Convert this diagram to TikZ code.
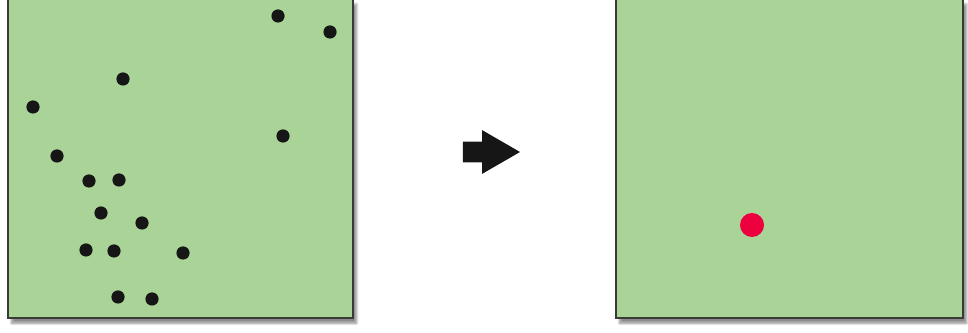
\documentclass[tikz,border=0pt]{standalone}
\usepackage{xcolor}
\definecolor{fieldgreen}{RGB}{170,211,152}
\definecolor{frameink}{RGB}{55,58,55}
\definecolor{hotred}{RGB}{236,0,62}
\definecolor{dotink}{RGB}{22,22,22}
\usepackage{tikz}
\usetikzlibrary{positioning,shapes.arrows,shadows.blur}
\tikzset{
  panel/.style  ={rectangle,draw=frameink,fill=fieldgreen,line width=1.1pt,
                  minimum width=8.625cm,minimum height=7.975cm,inner sep=0pt,
                  blur shadow={shadow xshift=0.09cm,shadow yshift=-0.13cm,shadow blur steps=6,shadow opacity=45}},
  pointmark/.style={circle,fill=dotink,minimum size=0.33cm,inner sep=0pt},
  meanmark/.style ={circle,fill=hotred,minimum size=0.6cm,inner sep=0pt},
  goarrow/.style  ={single arrow,fill=dotink,inner xsep=0pt,inner ysep=0.25cm,
                    single arrow head extend=0.29cm,single arrow tip angle=60,minimum height=1.43cm},
}

\begin{document}
\begin{tikzpicture}[x=0.025cm,y=-0.025cm]
  \useasboundingbox (0,0) rectangle (968,333);
  \node[panel] (before) at (180.5,158.5) {};
  \node[panel,minimum width=8.675cm] (after) at (789.5,158.5) {};
  % input points
  \foreach \px/\py [count=\i] in {278/16,330/32,123/79,33/107,283/136,57/156,89/181,119/180,
                                   101/213,142/223,86/250,114/251,183/253,118/297,152/299}
    \node[pointmark] (pt\i) at (\px,\py) {};
  \node[goarrow] (step) at (482.5,152) {};
  \node[meanmark] (centre) at (752,225) {};
\end{tikzpicture}
\end{document}
